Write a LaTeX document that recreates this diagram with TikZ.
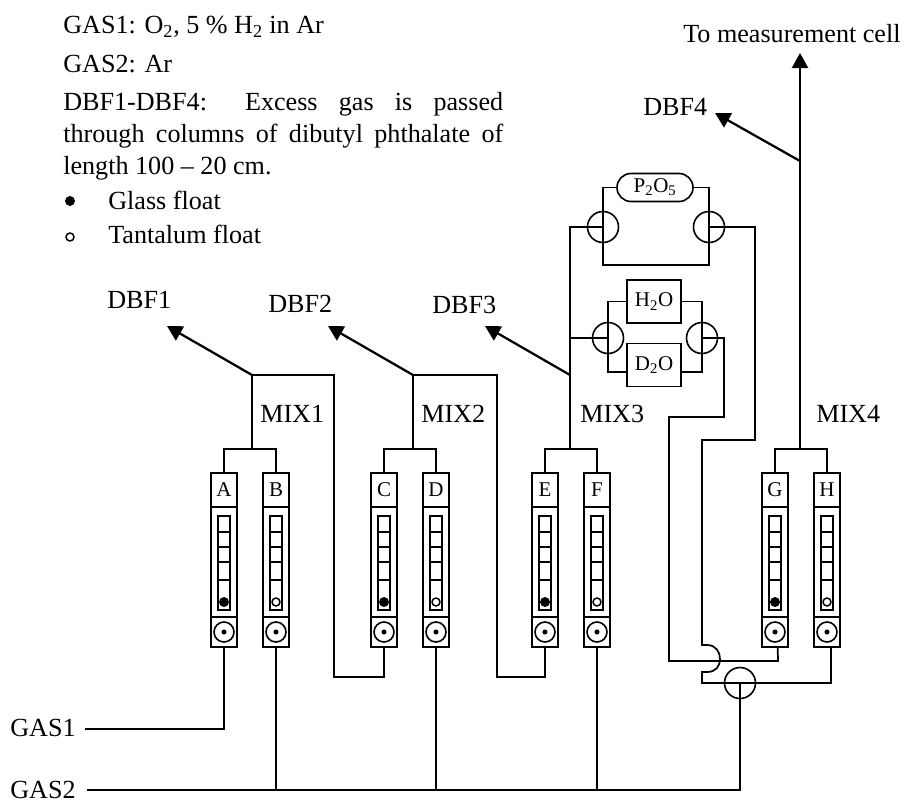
\documentclass[tikz,border=0pt]{standalone}
\usepackage{fontspec}
\setmainfont{Liberation Serif}
\usepackage{tikz}
\usetikzlibrary{arrows.meta,positioning,shapes.misc}
\usepackage{xcolor}

\begin{document}
\begin{tikzpicture}[
  x=0.75pt, y=-0.75pt,
  font=\fontsize{19.6pt}{24pt}\selectfont,
  txt/.style={inner sep=0pt, anchor=base west},
  part/.style={draw, line width=1.2pt, inner sep=0pt, outer sep=0pt, align=center},
  lblbox/.style={part, minimum width=19.5pt, minimum height=25.5pt,
              font=\fontsize{15.75pt}{18pt}\selectfont},
  bodybox/.style={part, minimum width=19.5pt, minimum height=82.5pt},
  tubebox/.style={part, minimum width=9pt, minimum height=70.5pt},
  valvebox/.style={part, minimum width=19.5pt, minimum height=22.5pt},
  ring/.style={part, circle, minimum size=15pt},
  pin/.style={circle, fill=black, inner sep=0pt, minimum size=3.8pt},
  glassfloat/.style={circle, fill=black, draw, line width=0.6pt, inner sep=0pt, minimum size=6.8pt},
  tantfloat/.style={circle, draw, line width=1.1pt, inner sep=0pt, minimum size=6pt},
  valve/.style={part, circle, minimum size=23.25pt},
  agent/.style={part, minimum width=40.5pt, minimum height=32.5pt,
              font=\fontsize{15.75pt}{18pt}\selectfont},
  capsule/.style={part, rounded rectangle, minimum width=57pt, minimum height=21pt,
              font=\fontsize{15.75pt}{18pt}\selectfont},
  pipe/.style={line width=1.3pt},
  arr/.style={-{Triangle[length=11.25pt, width=12pt]}, line width=1.7pt},
]
\useasboundingbox (0,0) rectangle (906,803);

% legend
\node[txt] (gasA) at (63,33) {GAS1: O\textsubscript{2}, 5 \% H\textsubscript{2} in Ar};
\node[txt] (gasB) at (63,72) {GAS2: Ar};
\node[inner sep=0pt, anchor=north west, text width=330pt, align=justify] (note) at (63,92)
  {DBF1-DBF4: Excess gas is passed through columns of dibutyl phthalate of length 100 -- 20 cm.};
\node[glassfloat] (keyglass) at (70,201) {};
\node[tantfloat] (keytant) at (70,237) {};
\node[txt] (glass) at (108,209) {Glass float};
\node[txt] (tant) at (108,243) {Tantalum float};

% flowmeters
\foreach \rot/\xc/\flt in {A/224/glassfloat, B/276/tantfloat, C/384/glassfloat, D/436/tantfloat,
                           E/545/glassfloat, F/597/tantfloat, G/775/glassfloat, H/827/tantfloat} {
  \node[lblbox] (lbl\rot) at (\xc,490) {\rot};
  \node[bodybox, below=0pt of lbl\rot] (body\rot) {};
  \node[valvebox, below=0pt of body\rot] (valve\rot) {};
  \node[tubebox] (tube\rot) at (\xc,563) {};
  \foreach \yy in {532,547,562,580}
    \draw[line width=1pt] (tube\rot.west |- 0,\yy) -- (tube\rot.east |- 0,\yy);
  \node[\flt] (float\rot) at (\xc,602) {};
  \node[ring] (ring\rot) at (valve\rot) {};
  \node[pin] (pin\rot) at (valve\rot) {};
}

% junctions
\coordinate (joinAB) at (252,449);
\coordinate (joinCD) at (413,449);
\coordinate (joinEF) at (570,449);
\coordinate (joinGH) at (800,449);
\coordinate (topAB) at (252,375);
\coordinate (topCD) at (413,375);
\coordinate (topEF) at (570,375);
\coordinate (topGH) at (800,161);
\draw[pipe] (lblA.north) |- (joinAB) -| (lblB.north);
\draw[pipe] (lblC.north) |- (joinCD) -| (lblD.north);
\draw[pipe] (lblE.north) |- (joinEF) -| (lblF.north);
\draw[pipe] (lblG.north) |- (joinGH) -| (lblH.north);
\draw[pipe] (joinAB) -- (topAB);
\draw[pipe] (joinCD) -- (topCD);

% excess gas
\coordinate (tipA) at (167,326);
\coordinate (tipB) at (328,326);
\coordinate (tipC) at (485,326);
\coordinate (tipD) at (715,113);
\coordinate (tipcell) at (800,53);
\draw[arr] (topAB) -- (tipA);
\draw[arr] (topCD) -- (tipB);
\draw[arr] (topEF) -- (tipC);
\draw[arr] (topGH) -- (tipD);
\draw[arr] (joinGH) -- (tipcell);
\node[txt] (dbfA) at (107,308) {DBF1};
\node[txt] (dbfB) at (268,312) {DBF2};
\node[txt] (dbfC) at (432,313) {DBF3};
\node[txt] (dbfD) at (643,115) {DBF4};
\node[txt] (cell) at (683,42) {To measurement cell};
\node[txt] (mixA) at (260,422) {MIX1};
\node[txt] (mixB) at (421,422) {MIX2};
\node[txt] (mixC) at (580,422) {MIX3};
\node[txt] (mixD) at (816,422) {MIX4};

% drying and labelling branches
\node[capsule] (pox) at (655,187.5) {P\textsubscript{2}O\textsubscript{5}};
\node[agent] (water) at (654,301.5) {H\textsubscript{2}O};
\node[agent] (heavy) at (654,365) {D\textsubscript{2}O};
\node[valve] (vpoxin) at (603,227) {};
\node[valve] (vpoxout) at (709,227) {};
\node[valve] (vwatin) at (608,338) {};
\node[valve] (vwatout) at (702,338) {};
\coordinate (poxlo) at (603,265);
\coordinate (poxhi) at (709,265);
\draw[pipe] (joinEF) |- (vpoxin.center);
\draw[pipe] (joinEF |- vwatin.center) -- (vwatin.center);
\draw[pipe] (pox.west) -| (poxlo) -- (poxhi) |- (pox.east);
\draw[pipe] (water.west) -| (vwatin.center) |- ([yshift=-5pt]heavy.west);
\draw[pipe] (water.east) -| (vwatout.center) |- ([yshift=-5pt]heavy.east);

% gas supply
\node[txt] (gasone) at (10,736) {GAS1};
\node[txt] (gastwo) at (10,798) {GAS2};
\coordinate (gasoneend) at (85,729);
\coordinate (gastwoend) at (87,790);
\node[valve] (tee) at (740,683) {};
\draw[pipe] (gasoneend) -| (valveA.south);
\draw[pipe] (gastwoend) -| (tee.center);
\draw[pipe] (valveB.south) -- (valveB.south |- gastwoend);
\draw[pipe] (valveD.south) -- (valveD.south |- gastwoend);
\draw[pipe] (valveF.south) -- (valveF.south |- gastwoend);

% cross feeds
\coordinate (feedC) at (334,677);
\coordinate (feedE) at (497,677);
\draw[pipe] (topAB) -| (feedC) -| (valveC.south);
\draw[pipe] (topCD) -| (feedE) -| (valveE.south);
\coordinate (bendG) at (778,661);
\coordinate (hoplo) at (702,672);
\coordinate (hophi) at (702,645);
\draw[pipe] (vwatout.center) -- ++(22,0) -- ++(0,79) -- ++(-55,0) |- (bendG) -- ([xshift=2pt]valveG.south);
\draw[pipe] ([xshift=3pt]valveH.south) |- (hoplo |- tee.center) -- (hoplo) -- ++(5,0)
  .. controls (716,672) and (720,666) .. (720,659)
  .. controls (720,652) and (716,645) .. (707,645) -- (hophi)
  -- ++(0,-205) -- ++(53,0) |- (vpoxout.center);
\end{tikzpicture}
\end{document}
